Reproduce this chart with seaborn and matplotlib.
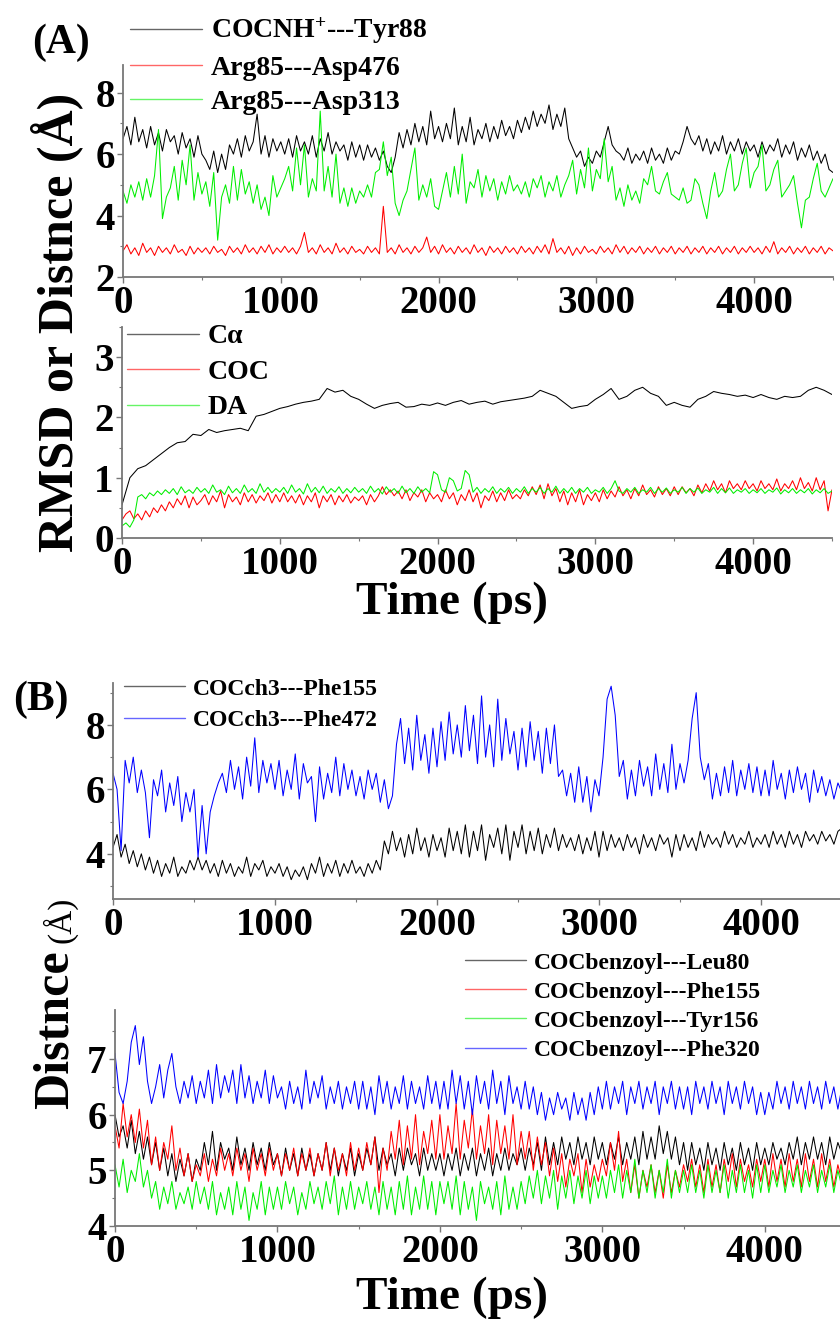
import numpy as np
import pandas as pd
import seaborn as sns
import matplotlib.pyplot as plt
from matplotlib.ticker import MultipleLocator

# time axes, ps: noisy traces read every 25 ps, the smooth C-alpha trace every 50 ps
time_ps = np.arange(0, 4501, 25)
time_ca = np.arange(0, 4501, 50)

# ---- panel (A), upper: distances ----
tyr88 = [6.5, 6.9, 6.3, 7.2, 6.4, 6.8, 6.2, 6.9, 6.3, 6.7, 6.1, 6.8, 6.4, 6.6, 6.0, 6.7, 6.2, 6.5, 5.9, 6.6, 6.0,
         5.8, 5.5, 6.1, 5.4, 6.0, 5.5, 6.3, 6.0, 6.5, 5.9, 6.6, 6.1, 6.4, 7.3, 6.0, 6.6, 5.9, 6.5, 6.1, 6.4,
         6.0, 6.5, 5.9, 6.6, 6.1, 6.4, 6.0, 6.6, 5.9, 6.5, 6.1, 6.7, 6.0, 6.4, 6.1, 6.3, 5.8, 6.4, 5.9, 6.3,
         5.8, 6.3, 5.9, 6.2, 5.8, 6.1, 5.6, 5.4, 5.9, 6.7, 6.2, 6.8, 6.3, 7.0, 6.4, 6.9, 6.3, 7.4, 6.5, 6.9,
         6.4, 7.0, 6.5, 7.5, 6.3, 6.9, 6.4, 7.2, 6.3, 6.8, 6.5, 7.0, 6.4, 6.9, 6.5, 7.1, 6.6, 6.9, 6.5, 7.1,
         6.7, 7.2, 6.8, 7.4, 6.9, 7.3, 7.0, 7.6, 6.8, 7.3, 6.9, 7.5, 6.5, 6.2, 5.9, 6.1, 5.6, 5.9, 5.7, 6.1,
         5.9, 6.4, 6.9, 6.3, 6.1, 6.0, 5.8, 6.2, 5.7, 6.0, 5.8, 6.1, 5.7, 6.2, 5.8, 6.0, 5.7, 6.2, 5.8, 6.1,
         6.0, 6.4, 6.9, 6.5, 6.3, 6.6, 6.1, 6.5, 6.0, 6.4, 6.1, 6.6, 6.0, 6.4, 6.1, 6.5, 6.0, 6.4, 6.1, 6.3,
         5.9, 6.4, 6.0, 6.3, 6.1, 6.5, 5.9, 6.3, 6.0, 6.4, 5.8, 6.2, 5.9, 6.3, 5.8, 6.1, 5.7, 6.0, 5.5, 5.4]
asp476 = [2.85, 3.05, 2.75, 2.95, 2.7, 3.1, 2.8, 2.95, 2.7, 3.0, 2.8, 2.95, 2.75, 3.05, 2.8, 2.9, 2.7, 3.0, 2.75, 2.95, 2.8,
          2.95, 2.75, 3.0, 2.8, 2.9, 2.7, 3.0, 2.8, 2.95, 2.75, 3.05, 2.8, 2.95, 2.75, 3.0, 2.8, 3.05, 2.75, 2.95, 2.8,
          3.0, 2.8, 2.95, 2.75, 3.0, 3.45, 2.8, 2.95, 2.75, 3.05, 2.8, 2.95, 2.75, 3.1, 2.8, 2.95, 2.75, 3.0, 2.8, 2.9,
          2.75, 3.0, 2.8, 2.95, 2.75, 4.3, 2.8, 2.95, 2.75, 3.05, 2.8, 2.95, 2.75, 3.0, 2.8, 2.95, 3.3, 2.8, 3.0, 2.75,
          3.05, 2.8, 2.95, 2.75, 3.0, 2.8, 2.95, 2.75, 3.05, 2.8, 2.95, 2.7, 3.0, 2.8, 2.95, 2.75, 3.0, 2.8, 2.95, 2.75,
          3.0, 2.8, 2.95, 2.75, 3.0, 2.8, 3.05, 2.75, 3.25, 2.8, 2.95, 2.75, 3.0, 2.7, 2.95, 2.75, 3.0, 2.8, 2.9, 2.75,
          3.0, 2.8, 2.95, 2.75, 3.05, 2.8, 3.0, 2.75, 2.95, 2.8, 3.0, 2.75, 2.95, 2.8, 3.0, 2.75, 2.95, 2.8, 3.0, 2.75,
          2.95, 2.8, 3.0, 2.75, 2.95, 2.8, 3.0, 2.75, 2.95, 2.8, 3.0, 2.75, 2.95, 2.8, 3.0, 2.75, 2.95, 2.8, 3.0, 2.8,
          2.95, 2.75, 3.0, 2.8, 3.15, 2.75, 2.95, 2.8, 3.0, 2.75, 2.95, 2.8, 3.0, 2.75, 2.95, 2.8, 3.0, 2.75, 2.95, 2.85]
asp313 = [4.8, 4.4, 5.0, 4.6, 5.1, 4.5, 5.2, 4.6, 5.3, 6.8, 3.9, 4.6, 4.9, 5.6, 4.5, 5.8, 5.0, 6.3, 4.5, 5.4, 4.7,
          5.1, 4.3, 5.4, 3.2, 4.6, 5.0, 4.4, 5.6, 4.5, 5.5, 4.7, 5.1, 4.4, 5.0, 4.2, 4.6, 4.0, 5.3, 4.6, 4.9,
          5.2, 5.6, 4.8, 6.2, 5.0, 6.3, 4.6, 5.2, 4.8, 7.4, 4.8, 5.6, 4.6, 6.0, 4.4, 4.9, 4.3, 4.9, 4.4, 4.8,
          4.6, 5.0, 4.6, 5.4, 5.5, 6.4, 5.3, 5.9, 4.4, 4.0, 4.5, 4.8, 5.5, 6.2, 4.5, 5.0, 4.6, 5.2, 4.3, 4.2,
          4.8, 5.4, 4.6, 5.6, 4.7, 6.0, 4.4, 5.1, 4.9, 5.5, 4.6, 5.3, 4.8, 5.2, 4.5, 5.1, 4.7, 5.3, 4.8, 5.0,
          4.7, 5.1, 4.6, 5.2, 4.9, 5.3, 4.6, 5.1, 4.8, 5.3, 4.6, 5.0, 5.3, 5.8, 4.7, 5.5, 4.9, 6.2, 4.8, 5.5,
          5.2, 6.5, 5.1, 5.6, 4.5, 4.9, 4.3, 5.0, 4.5, 4.8, 4.4, 5.2, 5.0, 5.6, 4.8, 4.7, 5.1, 5.4, 4.7, 4.6,
          4.5, 4.9, 4.4, 4.5, 5.2, 5.0, 4.4, 3.9, 4.8, 5.4, 4.6, 4.8, 5.5, 6.0, 4.8, 5.0, 5.7, 6.2, 4.9, 5.4,
          5.6, 6.3, 4.8, 5.0, 5.5, 5.8, 4.6, 4.8, 5.0, 5.3, 4.4, 3.6, 4.5, 4.6, 5.2, 5.7, 4.8, 4.6, 4.9, 5.2]

# ---- panel (A), lower: RMSD ----
ca = [0.55, 1.0, 1.15, 1.2, 1.3, 1.4, 1.5, 1.58, 1.6, 1.72, 1.7,
      1.8, 1.75, 1.78, 1.8, 1.82, 1.78, 2.02, 2.05, 2.1, 2.15,
      2.18, 2.22, 2.25, 2.27, 2.3, 2.48, 2.42, 2.45, 2.35, 2.3,
      2.22, 2.15, 2.2, 2.23, 2.25, 2.17, 2.18, 2.22, 2.2, 2.24,
      2.2, 2.25, 2.28, 2.22, 2.25, 2.27, 2.22, 2.26, 2.28, 2.3,
      2.32, 2.35, 2.45, 2.4, 2.35, 2.25, 2.15, 2.18, 2.2, 2.3,
      2.38, 2.48, 2.3, 2.35, 2.45, 2.5, 2.4, 2.35, 2.2, 2.25,
      2.2, 2.17, 2.3, 2.35, 2.43, 2.4, 2.38, 2.35, 2.37, 2.33,
      2.38, 2.33, 2.3, 2.35, 2.33, 2.35, 2.45, 2.5, 2.45, 2.38]
coc = [0.3, 0.4, 0.45, 0.32, 0.4, 0.3, 0.45, 0.35, 0.5, 0.42, 0.55, 0.45, 0.6, 0.5, 0.65, 0.55, 0.7, 0.5, 0.68, 0.55, 0.62,
       0.72, 0.55, 0.7, 0.6, 0.78, 0.5, 0.72, 0.6, 0.68, 0.55, 0.75, 0.6, 0.72, 0.58, 0.7, 0.62, 0.75, 0.58, 0.72, 0.6,
       0.75, 0.6, 0.7, 0.58, 0.72, 0.55, 0.7, 0.6, 0.75, 0.5, 0.7, 0.6, 0.72, 0.55, 0.7, 0.6, 0.72, 0.58, 0.68, 0.62,
       0.7, 0.55, 0.72, 0.6, 0.7, 0.85, 0.72, 0.8, 0.7, 0.78, 0.65, 0.8, 0.62, 0.75, 0.68, 0.8, 0.6, 0.75, 0.65, 0.72,
       0.6, 0.8, 0.65, 0.75, 0.55, 0.72, 0.62, 0.8, 0.6, 0.75, 0.5, 0.7, 0.62, 0.78, 0.6, 0.75, 0.62, 0.8, 0.65, 0.72,
       0.65, 0.8, 0.7, 0.85, 0.72, 0.88, 0.65, 0.9, 0.7, 0.82, 0.6, 0.78, 0.55, 0.75, 0.6, 0.8, 0.55, 0.72, 0.62, 0.75,
       0.6, 0.8, 0.65, 0.78, 0.68, 0.85, 0.7, 0.8, 0.65, 0.82, 0.7, 0.88, 0.72, 0.8, 0.68, 0.85, 0.72, 0.82, 0.7, 0.85,
       0.72, 0.85, 0.75, 0.82, 0.7, 0.88, 0.75, 0.9, 0.78, 0.95, 0.8, 0.9, 0.75, 0.95, 0.82, 0.9, 0.8, 0.95, 0.82, 0.9,
       0.78, 0.95, 0.82, 0.9, 0.8, 0.98, 0.78, 0.9, 0.82, 0.95, 0.8, 1.0, 0.82, 0.92, 0.78, 1.0, 0.8, 0.95, 0.45, 0.8]
da = [0.2, 0.25, 0.18, 0.3, 0.68, 0.72, 0.65, 0.75, 0.7, 0.78, 0.72, 0.8, 0.74, 0.82, 0.72, 0.85, 0.75, 0.8, 0.74, 0.84, 0.76,
      0.82, 0.74, 0.88, 0.76, 0.8, 0.72, 0.86, 0.75, 0.82, 0.74, 0.88, 0.76, 0.82, 0.74, 0.9, 0.76, 0.84, 0.75, 0.82, 0.76,
      0.84, 0.74, 0.88, 0.76, 0.82, 0.73, 0.9, 0.76, 0.84, 0.75, 0.86, 0.74, 0.82, 0.76, 0.85, 0.74, 0.82, 0.75, 0.84, 0.76,
      0.82, 0.74, 0.86, 0.76, 0.82, 0.73, 0.85, 0.76, 0.82, 0.74, 0.86, 0.75, 0.82, 0.74, 0.85, 0.76, 0.82, 0.75, 1.1, 1.05,
      0.8, 0.76, 1.0, 0.95, 0.78, 0.82, 1.12, 1.05, 0.76, 0.84, 0.74, 0.82, 0.76, 0.85, 0.74, 0.82, 0.76, 0.84, 0.74, 0.82,
      0.76, 0.85, 0.74, 0.82, 0.76, 0.84, 0.74, 0.82, 0.76, 0.86, 0.74, 0.82, 0.75, 0.84, 0.74, 0.82, 0.76, 0.84, 0.74, 0.8,
      0.76, 0.84, 0.74, 0.82, 0.95, 0.78, 0.74, 0.82, 0.76, 0.84, 0.74, 0.8, 0.76, 0.84, 0.74, 0.82, 0.76, 0.83, 0.74, 0.8,
      0.76, 0.84, 0.74, 0.82, 0.76, 0.83, 0.74, 0.8, 0.76, 0.84, 0.74, 0.82, 0.75, 0.83, 0.74, 0.8, 0.76, 0.82, 0.74, 0.8,
      0.75, 0.82, 0.74, 0.8, 0.76, 0.83, 0.73, 0.8, 0.75, 0.82, 0.74, 0.8, 0.75, 0.82, 0.73, 0.8, 0.75, 0.82, 0.74, 0.78]

# ---- panel (B), upper ----
ch3_phe155 = [4.2, 4.6, 3.9, 4.3, 3.7, 4.1, 3.6, 4.0, 3.5, 3.9, 3.4, 3.8, 3.3, 3.7, 3.4, 3.9, 3.3, 3.6, 3.4, 3.8, 3.5,
              3.9, 3.5, 3.8, 3.4, 3.7, 3.3, 3.8, 3.4, 3.7, 3.3, 3.6, 3.4, 3.9, 3.3, 3.7, 3.5, 3.8, 3.3, 3.6, 3.4,
              3.7, 3.3, 3.6, 3.2, 3.5, 3.3, 3.6, 3.2, 3.7, 3.4, 3.9, 3.3, 3.7, 3.4, 3.8, 3.3, 3.7, 3.4, 3.8, 3.4,
              3.6, 3.3, 3.7, 3.4, 3.8, 3.5, 4.4, 4.0, 4.7, 4.1, 4.5, 3.9, 4.6, 4.0, 4.8, 4.1, 4.5, 3.9, 4.6, 4.1,
              4.5, 3.9, 4.8, 4.1, 4.7, 4.0, 4.9, 3.9, 4.7, 4.1, 4.9, 3.8, 4.6, 4.2, 4.8, 4.0, 4.9, 3.8, 4.7, 4.2,
              4.9, 4.0, 4.7, 4.1, 4.8, 4.0, 4.6, 4.2, 4.8, 4.1, 4.6, 4.2, 4.5, 4.1, 4.6, 4.0, 4.5, 4.1, 4.7, 3.9,
              4.7, 4.1, 4.6, 4.2, 4.5, 4.1, 4.6, 4.2, 4.5, 4.0, 4.6, 4.2, 4.5, 4.1, 4.6, 4.3, 4.5, 3.9, 4.6, 4.1,
              4.6, 4.2, 4.5, 4.1, 4.7, 4.2, 4.6, 4.3, 4.5, 4.2, 4.7, 4.3, 4.6, 4.2, 4.5, 4.3, 4.7, 4.2, 4.5, 4.3,
              4.6, 4.2, 4.7, 4.3, 4.6, 4.2, 4.7, 4.3, 4.6, 4.2, 4.7, 4.4, 4.6, 4.3, 4.7, 4.4, 4.6, 4.3, 4.7, 4.8]
ch3_phe472 = [6.5, 6.0, 4.1, 6.9, 6.2, 7.0, 5.9, 6.6, 5.9, 4.5, 6.3, 5.8, 6.6, 5.3, 6.2, 5.5, 6.4, 5.0, 5.9, 5.3, 6.0,
              3.9, 5.5, 4.0, 5.3, 5.8, 6.2, 6.5, 5.9, 6.9, 6.0, 6.7, 5.7, 7.0, 6.1, 7.6, 5.9, 6.9, 6.2, 6.8, 6.0,
              6.9, 5.8, 6.6, 6.0, 7.1, 5.7, 6.8, 6.2, 6.4, 5.0, 6.7, 5.7, 6.5, 5.9, 7.0, 5.8, 6.8, 6.0, 6.6, 5.8,
              6.4, 5.7, 6.6, 6.0, 6.5, 5.6, 6.3, 5.4, 5.8, 7.4, 8.2, 6.8, 7.9, 6.6, 8.3, 6.9, 7.7, 6.5, 7.9, 6.7,
              8.1, 6.9, 8.4, 7.1, 8.0, 7.0, 8.6, 7.2, 8.3, 6.8, 8.9, 7.0, 8.0, 6.7, 8.8, 6.9, 8.2, 7.1, 7.8, 6.6,
              7.9, 6.7, 8.1, 6.9, 7.8, 6.5, 7.9, 6.8, 8.0, 6.4, 6.6, 5.8, 6.5, 5.6, 6.7, 5.6, 6.4, 5.3, 6.3, 5.8,
              7.0, 8.8, 9.2, 8.3, 6.4, 6.9, 5.7, 6.6, 5.8, 6.9, 6.1, 6.7, 5.8, 7.1, 6.0, 6.8, 5.9, 7.4, 6.0, 6.8,
              6.2, 6.9, 8.2, 9.0, 7.0, 6.3, 6.8, 5.7, 6.5, 5.8, 6.7, 5.9, 6.9, 5.8, 6.6, 6.0, 6.8, 5.9, 6.7, 5.8,
              6.6, 5.8, 6.9, 6.0, 6.5, 5.7, 6.6, 5.9, 6.7, 6.0, 6.5, 5.6, 6.6, 5.9, 6.4, 5.8, 6.3, 5.7, 6.2, 5.9]

# ---- panel (B), lower ----
bz_leu80 = [6.0, 5.6, 5.8, 5.4, 5.9, 5.3, 5.7, 5.2, 5.6, 5.1, 5.5, 5.0, 5.4, 4.9, 5.3, 4.8, 5.2, 4.9, 5.3, 4.8, 5.2,
            5.0, 5.5, 5.1, 5.7, 5.0, 5.5, 5.2, 5.4, 5.0, 5.6, 5.1, 5.4, 5.0, 5.5, 5.1, 5.4, 5.0, 5.5, 5.1, 5.3,
            4.9, 5.4, 5.0, 5.3, 4.9, 5.4, 5.0, 5.3, 4.9, 5.3, 5.0, 5.5, 5.0, 5.4, 4.9, 5.3, 5.0, 5.4, 4.9, 5.3,
            5.0, 5.4, 5.1, 5.6, 5.0, 5.4, 5.1, 5.3, 4.9, 5.4, 5.0, 5.4, 5.1, 5.3, 4.9, 5.4, 5.0, 5.3, 5.0, 5.3,
            4.9, 5.3, 5.0, 5.4, 4.9, 5.3, 5.0, 5.4, 4.9, 5.3, 5.0, 5.4, 4.9, 5.3, 5.0, 5.4, 5.0, 5.3, 5.1, 5.4,
            5.0, 5.4, 5.1, 5.5, 5.0, 5.6, 5.1, 5.5, 5.1, 5.6, 5.2, 5.5, 5.1, 5.6, 5.2, 5.5, 5.1, 5.6, 5.2, 5.5,
            5.1, 5.5, 5.2, 5.6, 5.1, 5.5, 5.2, 5.6, 5.1, 5.7, 5.2, 5.6, 5.2, 5.8, 5.3, 5.7, 5.2, 5.6, 5.1, 5.5,
            5.0, 5.5, 5.1, 5.4, 5.0, 5.5, 5.1, 5.4, 5.0, 5.5, 5.1, 5.4, 5.0, 5.5, 5.1, 5.4, 5.0, 5.5, 5.1, 5.4,
            5.1, 5.5, 5.2, 5.4, 5.1, 5.5, 5.2, 5.6, 5.1, 5.5, 5.2, 5.6, 5.2, 5.5, 5.1, 5.6, 5.2, 5.5, 5.3, 5.5]
bz_phe155 = [5.8, 5.4, 6.2, 5.6, 6.0, 5.5, 6.1, 5.4, 5.9, 5.1, 5.6, 5.0, 5.5, 5.2, 5.8, 5.0, 5.4, 4.9, 5.3, 4.8, 5.1,
             4.9, 5.3, 4.8, 5.2, 4.9, 5.4, 5.0, 5.3, 4.9, 5.4, 5.0, 5.3, 4.8, 5.4, 5.0, 5.3, 4.9, 5.4, 5.0, 5.3,
             4.9, 5.3, 5.0, 5.4, 4.9, 5.3, 5.0, 5.4, 4.9, 5.3, 5.0, 5.5, 4.9, 5.4, 5.0, 5.3, 4.9, 5.5, 5.0, 5.4,
             5.0, 5.5, 5.1, 5.6, 4.6, 5.4, 5.0, 5.7, 5.2, 5.9, 5.1, 5.8, 5.2, 6.0, 5.1, 5.7, 5.3, 5.9, 5.2, 6.0,
             5.2, 5.8, 5.3, 6.2, 5.2, 5.9, 5.4, 6.1, 5.2, 5.8, 5.3, 6.0, 5.1, 5.9, 5.3, 5.8, 5.2, 6.0, 5.1, 5.7,
             5.2, 5.7, 5.0, 5.6, 5.1, 5.5, 4.9, 5.4, 4.8, 5.3, 4.7, 5.2, 4.9, 5.3, 4.6, 5.2, 4.7, 5.1, 4.8, 5.2,
             4.9, 5.5, 5.0, 5.7, 4.8, 5.2, 4.6, 5.1, 4.5, 5.0, 4.7, 5.1, 4.6, 5.0, 4.5, 5.1, 4.6, 5.0, 4.7, 5.1,
             4.8, 5.2, 4.7, 5.1, 4.6, 5.2, 4.7, 5.1, 4.6, 5.2, 4.8, 5.3, 4.7, 5.2, 4.8, 5.1, 4.7, 5.2, 4.8, 5.2,
             4.7, 5.3, 4.8, 5.2, 4.7, 5.3, 4.8, 5.2, 4.7, 5.3, 4.8, 5.2, 4.7, 5.3, 4.8, 5.2, 4.7, 5.1, 4.8, 5.0]
bz_tyr156 = [5.1, 4.7, 5.2, 4.6, 5.0, 4.8, 5.3, 4.7, 5.0, 4.5, 4.8, 4.3, 4.7, 4.4, 4.8, 4.3, 4.6, 4.4, 4.7, 4.3, 4.8,
             4.4, 4.7, 4.3, 4.8, 4.2, 4.6, 4.3, 4.7, 4.2, 4.8, 4.3, 4.7, 4.1, 4.6, 4.3, 4.8, 4.2, 4.7, 4.3, 4.7,
             4.3, 4.8, 4.4, 4.7, 4.2, 4.6, 4.3, 4.8, 4.4, 4.7, 4.3, 4.8, 4.4, 4.9, 4.2, 4.7, 4.3, 4.8, 4.3, 4.7,
             4.4, 4.8, 4.3, 4.7, 4.2, 4.8, 4.3, 4.7, 4.2, 4.8, 4.3, 4.9, 4.2, 4.7, 4.3, 4.9, 4.3, 4.8, 4.2, 4.8,
             4.4, 4.8, 4.3, 4.9, 4.2, 4.8, 4.3, 4.7, 4.1, 4.8, 4.4, 4.7, 4.3, 4.8, 4.2, 4.9, 4.3, 4.7, 4.3, 4.8,
             4.4, 4.9, 4.5, 5.0, 4.4, 4.9, 4.5, 5.0, 4.3, 4.9, 4.5, 5.0, 4.4, 4.9, 4.5, 5.0, 4.4, 4.9, 4.5, 4.9,
             4.5, 5.0, 4.6, 5.1, 4.5, 5.0, 4.6, 5.2, 4.5, 5.0, 4.6, 5.1, 4.5, 5.0, 4.6, 5.2, 4.5, 5.0, 4.6, 5.0,
             4.6, 5.1, 4.6, 5.0, 4.5, 5.1, 4.6, 5.0, 4.6, 5.1, 4.5, 5.0, 4.6, 5.1, 4.6, 5.0, 4.5, 5.1, 4.6, 5.1,
             4.6, 5.0, 4.7, 5.1, 4.6, 5.0, 4.7, 5.1, 4.6, 5.0, 4.7, 5.1, 4.6, 5.0, 4.7, 5.1, 4.6, 5.0, 4.7, 5.0]
bz_phe320 = [7.1, 6.4, 6.2, 6.6, 7.3, 7.6, 6.9, 7.4, 6.6, 6.2, 6.5, 6.9, 6.3, 6.8, 7.1, 6.5, 6.2, 6.6, 6.3, 6.7, 6.2,
             6.6, 6.3, 6.8, 6.2, 6.9, 6.3, 6.7, 6.4, 6.8, 6.2, 6.9, 6.3, 6.7, 6.2, 6.6, 6.3, 6.8, 6.2, 6.7, 6.3,
             6.5, 6.1, 6.6, 6.2, 6.5, 6.1, 6.8, 6.2, 6.6, 6.3, 6.7, 6.1, 6.5, 6.2, 6.6, 6.1, 6.5, 6.2, 6.6, 6.1,
             6.6, 6.1, 6.5, 6.0, 6.7, 6.2, 6.6, 6.1, 6.5, 6.2, 6.7, 6.1, 6.6, 6.2, 6.5, 6.1, 6.7, 6.2, 6.6, 6.1,
             6.6, 6.1, 6.8, 6.2, 6.7, 6.1, 6.6, 6.0, 6.7, 6.2, 6.6, 6.1, 6.8, 6.2, 6.6, 6.0, 6.7, 6.2, 6.5, 6.1,
             6.6, 6.1, 6.5, 6.0, 6.4, 5.9, 6.3, 6.0, 6.4, 6.1, 6.3, 5.9, 6.4, 6.0, 6.3, 5.9, 6.4, 6.0, 6.5, 6.1,
             6.6, 6.1, 6.5, 6.2, 6.6, 6.0, 6.5, 6.2, 6.6, 6.1, 6.5, 6.2, 6.6, 6.0, 6.5, 6.2, 6.6, 6.1, 6.5, 6.1,
             6.5, 6.0, 6.6, 6.2, 6.5, 6.1, 6.6, 6.2, 6.5, 6.0, 6.6, 6.2, 6.5, 6.1, 6.6, 6.2, 6.5, 6.0, 6.4, 6.0,
             6.4, 6.1, 6.6, 6.2, 6.5, 6.1, 6.6, 6.2, 6.5, 6.1, 6.6, 6.2, 6.5, 6.1, 6.6, 6.2, 6.5, 6.1, 6.5, 6.2]

sns.set_style('ticks')
plt.rcParams['font.family'] = ['Liberation Serif', 'DejaVu Serif']
plt.rcParams['font.weight'] = 'bold'
plt.rcParams['text.color'] = 'black'
plt.rcParams['xtick.labelcolor'] = 'black'
plt.rcParams['ytick.labelcolor'] = 'black'
plt.rcParams['mathtext.fontset'] = 'custom'
plt.rcParams['mathtext.rm'] = 'Liberation Serif:bold'
plt.rcParams['mathtext.bf'] = 'Liberation Serif:bold'
plt.rcParams['mathtext.default'] = 'rm'

W, H = 840, 1326
fig = plt.figure(figsize=(W / 100, H / 100), dpi=100)


def px_axes(left, right, top, bottom):
    # axes placed by pixel edges of the reference
    return fig.add_axes([left / W, 1 - bottom / H, (right - left) / W, (bottom - top) / H])


def draw_panel(ax, series, colors, ylim, ymajor, yminor):
    df = pd.concat([pd.DataFrame({'time': t, 'value': v, 'series': k})
                    for k, (t, v) in series.items()], ignore_index=True)
    sns.lineplot(data=df, x='time', y='value', hue='series', palette=colors,
                 estimator=None, sort=False, linewidth=0.75, legend=False, ax=ax)
    ax.set_xlim(0, 4500)
    ax.set_ylim(*ylim)
    ax.xaxis.set_major_locator(MultipleLocator(1000))
    ax.xaxis.set_minor_locator(MultipleLocator(500))
    ax.yaxis.set_major_locator(MultipleLocator(ymajor))
    ax.yaxis.set_minor_locator(MultipleLocator(yminor))
    ax.set_xlabel('')
    ax.set_ylabel('')
    for side in ['top', 'right']:
        ax.spines[side].set_visible(False)
    for side in ['left', 'bottom']:
        ax.spines[side].set_color('#777777')
        ax.spines[side].set_linewidth(1.3)
    ax.tick_params(which='major', length=4, width=1, color='#777777',
                   labelcolor='black', labelsize=28, pad=2)
    ax.tick_params(which='minor', length=2.5, width=0.8, color='#777777')
    for lab in ax.get_xticklabels() + ax.get_yticklabels():
        lab.set_fontweight('bold')
    return ax


def add_legend(ax, labels, x, y, size, spacing):
    leg = ax.legend(ax.lines, labels, loc='upper left',
                    bbox_to_anchor=(x / W, 1 - y / H), bbox_transform=fig.transFigure,
                    frameon=False, fontsize=size, handlelength=2.6, handletextpad=0.3,
                    labelspacing=spacing, borderpad=0, borderaxespad=0)
    for t in leg.get_texts():
        t.set_fontweight('bold')
        t.set_color('black')
    for h in leg.get_lines():
        h.set_linewidth(1.0)
        h.set_alpha(0.6)


# panel (A) upper
axA1 = px_axes(123, 833, 65, 277)
draw_panel(axA1, {'tyr88': (time_ps, tyr88), 'asp476': (time_ps, asp476),
                  'asp313': (time_ps, asp313)},
           ['#000000', '#ff0000', '#00ee00'], (2, 8.9), 2, 1)
add_legend(axA1, [r'COCNH$^{+}$---Tyr88', 'Arg85---Asp476', 'Arg85---Asp313'],
           130, 16, 20, 0.32)

# panel (A) lower
axA2 = px_axes(122, 832, 327, 538)
draw_panel(axA2, {'ca': (time_ca, ca), 'coc': (time_ps, coc), 'da': (time_ps, da)},
           ['#000000', '#ff0000', '#00ee00'], (0, 3.5), 1, 0.5)
add_legend(axA2, ['C\u03b1', 'COC', 'DA'], 127, 324, 20, 0.36)

# panel (B) upper
axB1 = px_axes(113, 842, 683, 899)
draw_panel(axB1, {'p155': (time_ps, ch3_phe155), 'p472': (time_ps, ch3_phe472)},
           ['#000000', '#0000ff'], (2.6, 9.3), 2, 1)
add_legend(axB1, ['COCch3---Phe155', 'COCch3---Phe472'], 124, 678, 17, 0.42)

# panel (B) lower
axB2 = px_axes(115, 846, 1010, 1226)
draw_panel(axB2, {'leu80': (time_ps, bz_leu80), 'phe155': (time_ps, bz_phe155),
                  'tyr156': (time_ps, bz_tyr156), 'phe320': (time_ps, bz_phe320)},
           ['#000000', '#ff0000', '#00ee00', '#0000ff'], (4, 7.88), 1, 0.5)
add_legend(axB2, ['COCbenzoyl---Leu80', 'COCbenzoyl---Phe155',
                  'COCbenzoyl---Tyr156', 'COCbenzoyl---Phe320'], 465, 952, 17, 0.32)

# shared labels
fig.text(61 / W, 1 - 43 / H, '(A)', fontsize=30, fontweight='bold', ha='center', va='center')
fig.text(41 / W, 1 - 700 / H, '(B)', fontsize=30, fontweight='bold', ha='center', va='center')
fig.text(57 / W, 1 - 322 / H, 'RMSD or Distnce (\u00c5)', fontsize=36, fontweight='bold',
         rotation=90, ha='center', va='center')
fig.text(56 / W, 1 - 1030 / H, 'Distnce', fontsize=36, fontweight='bold',
         rotation=90, ha='center', va='center')
fig.text(60 / W, 1 - 920 / H, '(\u00c5)', fontsize=24, fontweight='normal',
         rotation=90, ha='center', va='center')
fig.text(452 / W, 1 - 603 / H, 'Time (ps)', fontsize=34, fontweight='bold', ha='center', va='center')
fig.text(452 / W, 1 - 1298 / H, 'Time (ps)', fontsize=34, fontweight='bold', ha='center', va='center')

fig.savefig('out.png', dpi=100)
